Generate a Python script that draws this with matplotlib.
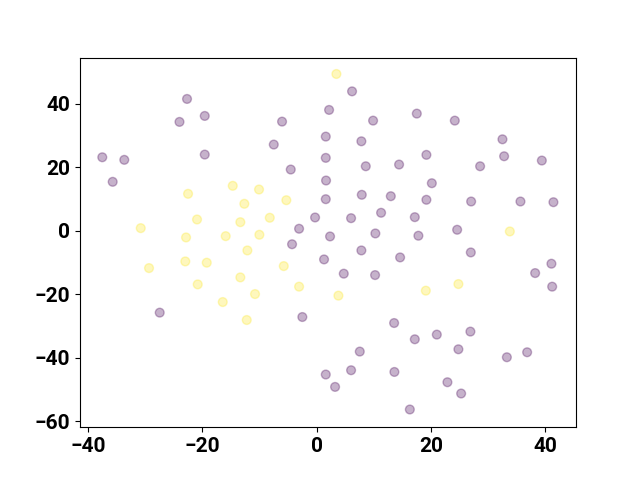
import numpy as np
import matplotlib
matplotlib.use("Agg")
import matplotlib.pyplot as plt

# 2-d embedding coordinates
purple_x = [-22.67, -19.57, -23.99, -6.04, 2.19, -7.49, 1.61, -37.50, -33.65, -19.57,
            -35.68, 1.61, -4.52, 1.66, 1.61, -0.26, -3.06, -4.29, 2.36, 6.21,
            9.89, 17.54, 24.19, 7.84, 32.53, 8.61, 14.44, 19.22, 28.62, 32.82,
            39.42, 20.17, 7.91, 12.99, 19.22, 27.05, 35.68, 41.45, 6.04, 11.29,
            17.19, 10.29, 17.82, 24.60, 7.84, 1.31, 14.62, 26.99, 4.76, 10.24,
            38.25, 41.10, 41.23, 13.57, 17.19, 21.04, 26.92, 7.56, 24.82, 33.30,
            36.85, 1.61, 6.04, 3.24, 13.62, 22.90, 25.30, 16.32, -27.45, -2.49]
purple_y = [41.48, 36.13, 34.25, 34.34, 38.02, 27.11, 29.62, 23.11, 22.30, 23.96,
            15.38, 22.92, 19.25, 15.79, 9.91, 4.15, 0.60, -4.28, -1.82, 43.87,
            34.65, 36.86, 34.65, 28.14, 28.77, 20.28, 20.82, 23.87, 20.28, 23.43,
            22.08, 14.94, 11.29, 10.85, 9.72, 9.18, 9.18, 8.96, 3.93, 5.63,
            4.25, -0.88, -1.60, 0.28, -6.23, -9.06, -8.43, -6.86, -13.55, -13.99,
            -13.36, -10.41, -17.64, -29.09, -34.21, -32.74, -31.79, -38.08, -37.36, -39.87,
            -38.30, -45.31, -43.96, -49.21, -44.50, -47.74, -51.29, -56.32, -25.82, -27.20]

yellow_x = [-14.67, -10.07, -22.49, -12.64, -5.29, -8.19, -20.92, -13.34, -30.77, -22.84,
            -15.90, -10.01, -12.11, -29.32, -22.97, -19.22, -5.74, -13.34, -20.80, -3.06,
            -10.77, -16.42, -12.22, 3.47, 33.82, 3.82, 19.12, 24.82]
yellow_y = [14.12, 12.96, 11.60, 8.46, 9.59, 4.06, 3.52, 2.67, 0.79, -2.14,
            -1.73, -1.29, -6.23, -11.79, -9.69, -10.09, -11.16, -14.72, -16.92, -17.64,
            -19.97, -22.48, -28.14, 49.34, -0.25, -20.47, -18.90, -16.82]

x = np.array(purple_x + yellow_x)
y = np.array(purple_y + yellow_y)
labels = np.array([0] * len(purple_x) + [1] * len(yellow_x))

fig, ax = plt.subplots(figsize=(6.4, 4.8), dpi=100)
ax.scatter(x, y, c=labels, cmap='viridis', alpha=0.3, s=40)
ax.set_xlim(-41.4, 45.4)
ax.set_ylim(-61.9, 54.5)
ax.set_xticks([-40, -20, 0, 20, 40])
ax.set_yticks([-60, -40, -20, 0, 20, 40])
for lab in ax.get_xticklabels() + ax.get_yticklabels():
    lab.set_family('Roboto')
    lab.set_weight('bold')
    lab.set_fontsize(15)

fig.savefig('out.png')
